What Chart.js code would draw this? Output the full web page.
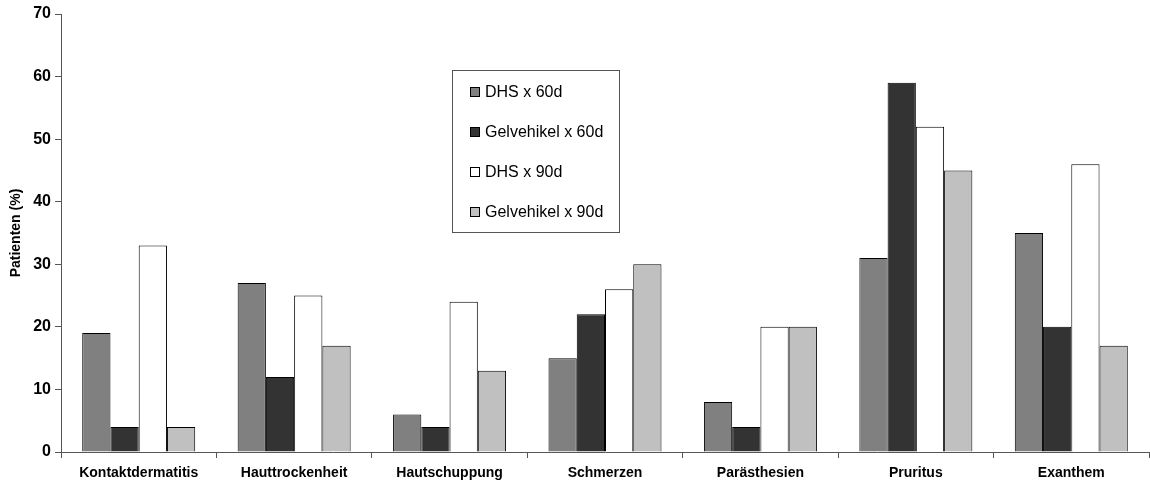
<!DOCTYPE html>
<html lang="de">
<head>
  <meta charset="UTF-8">
  <title>Patienten (%)</title>
  <style>
    html, body {
      margin: 0;
      padding: 0;
      background: #ffffff;
    }
    .chart-container {
      width: 1150px;
      height: 483px;
    }
  </style>
</head>
<body>
  <div class="chart-container">
    <canvas id="barChart"></canvas>
  </div>

  <script src="https://cdn.jsdelivr.net/npm/chart.js"></script>
  <script>
    // Data
    const categories = ['Kontaktdermatitis', 'Hauttrockenheit', 'Hautschuppung', 'Schmerzen', 'Parästhesien', 'Pruritus', 'Exanthem'];
    const seriesNames = ['DHS x 60d', 'Gelvehikel x 60d', 'DHS x 90d', 'Gelvehikel x 90d'];
    const dhs60 = [19, 27, 6, 15, 8, 31, 35];
    const gel60 = [4, 12, 4, 22, 4, 59, 20];
    const dhs90 = [33, 25, 24, 26, 20, 52, 46];
    const gel90 = [4, 17, 13, 30, 20, 45, 17];
    const yTicks = [0, 10, 20, 30, 40, 50, 60, 70];

    const colors = ['#808080', '#333333', '#ffffff', '#c0c0c0'];
    const fontFamily = "'Liberation Sans', Arial, sans-serif";

    // Legend box drawn inside the plot, like the original
    const boxLegend = {
      id: 'boxLegend',
      afterDraw(chart) {
        const ctx = chart.ctx;
        const area = chart.chartArea;
        const x = area.left + 391;
        const y = area.top + 56;
        const w = 167;
        const h = 162;
        ctx.save();
        ctx.strokeStyle = '#555555';
        ctx.lineWidth = 1;
        ctx.strokeRect(x + 0.5, y + 0.5, w, h);
        ctx.font = '16px ' + fontFamily;
        ctx.textBaseline = 'middle';
        chart.data.datasets.forEach((ds, i) => {
          const cy = y + 22 + i * 40;
          ctx.fillStyle = ds.backgroundColor;
          ctx.fillRect(x + 18, cy - 5, 9, 9);
          ctx.strokeStyle = '#000000';
          ctx.strokeRect(x + 18.5, cy - 4.5, 9, 9);
          ctx.fillStyle = '#000000';
          ctx.fillText(ds.label, x + 33, cy + 1);
        });
        ctx.restore();
      }
    };

    const barCtx = document.getElementById('barChart').getContext('2d');
    new Chart(barCtx, {
      type: 'bar',
      data: {
        labels: categories,
        datasets: [
          { label: seriesNames[0], data: dhs60, backgroundColor: colors[0] },
          { label: seriesNames[1], data: gel60, backgroundColor: colors[1] },
          { label: seriesNames[2], data: dhs90, backgroundColor: colors[2] },
          { label: seriesNames[3], data: gel90, backgroundColor: colors[3] }
        ].map(ds => Object.assign(ds, {
          borderColor: '#000000',
          borderWidth: 1,
          barPercentage: 1,
          categoryPercentage: 0.727
        }))
      },
      options: {
        responsive: true,
        maintainAspectRatio: false,
        animation: false,
        layout: { padding: { top: 14, right: 1, left: 0, bottom: 0 } },
        plugins: {
          legend: { display: false },
          tooltip: { enabled: false }
        },
        scales: {
          x: {
            grid: {
              offset: true,
              drawOnChartArea: false,
              drawTicks: true,
              tickLength: 6,
              color: '#555555'
            },
            border: { display: true, color: '#555555' },
            ticks: {
              color: '#000000',
              padding: 7,
              maxRotation: 0,
              autoSkip: false,
              font: { family: fontFamily, size: 14, weight: 'bold' }
            },
            afterFit(scale) { scale.height = 31; }
          },
          y: {
            min: 0,
            max: 70,
            afterBuildTicks(scale) { scale.ticks = yTicks.map(v => ({ value: v })); },
            grid: {
              drawOnChartArea: false,
              drawTicks: true,
              tickLength: 6,
              color: '#555555'
            },
            border: { display: true, color: '#555555' },
            ticks: {
              color: '#000000',
              padding: 4,
              font: { family: fontFamily, size: 16, weight: 'bold' }
            },
            title: {
              display: true,
              text: 'Patienten (%)',
              color: '#000000',
              padding: { top: 8, bottom: 0 },
              font: { family: fontFamily, size: 14, weight: 'bold' }
            },
            afterFit(scale) { scale.width = 61; }
          }
        }
      },
      plugins: [boxLegend]
    });
  </script>
</body>
</html>
